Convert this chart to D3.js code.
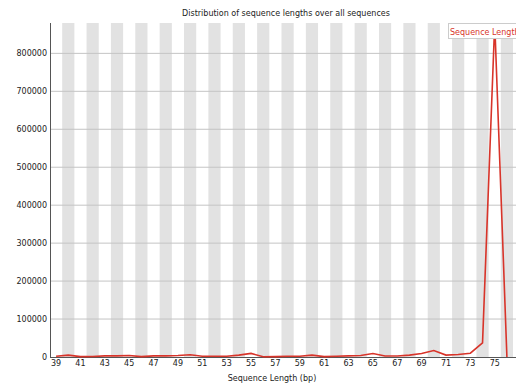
<!DOCTYPE html>
<html><head><meta charset="utf-8">
<script src="https://cdn.jsdelivr.net/npm/d3@7"></script>
<style>body{margin:0;background:#fff}svg{display:block;font-family:"DejaVu Sans",sans-serif}</style>
</head><body>
<svg id="c" width="516" height="387"></svg>
<script>
const lengths = [39,40,41,42,43,44,45,46,47,48,49,50,51,52,53,54,55,56,57,58,59,60,61,62,63,64,65,66,67,68,69,70,71,72,73,74,75,76];
const counts = [2000,5000,1000,1500,3000,3000,4000,1000,3000,3000,4000,6000,2000,2000,2000,5000,9500,500,1000,2000,2000,5000,1000,2000,3000,4000,9000,2500,2500,5000,9000,17000,5000,6500,10000,37500,880000,0];
const yTicks = [0,100000,200000,300000,400000,500000,600000,700000,800000];
const title = "Distribution of sequence lengths over all sequences";
const xTitle = "Sequence Length (bp)";
const seriesName = "Sequence Length";

(function(){
const svg = d3.select("#c");
const pl = 50, pr = 513, pt = 23, pb = 357;
const x = d3.scaleBand().domain(lengths).range([pl, pr]).padding(0);
const y = d3.scaleLinear().domain([0, d3.max(counts)]).range([pb, pt]);

svg.append("g").selectAll("rect").data(lengths.filter((d,i)=>i%2===1)).join("rect")
  .attr("x", d=>x(d)).attr("y", pt).attr("width", x.bandwidth()).attr("height", pb-pt)
  .attr("fill", "#e2e2e2");

svg.append("g").selectAll("line").data(yTicks.filter(d=>d>0)).join("line")
  .attr("x1", pl).attr("x2", 516).attr("y1", d=>y(d)).attr("y2", d=>y(d))
  .attr("stroke", "#c4c4c4").attr("stroke-width", 1);

svg.append("g").selectAll("text").data(yTicks).join("text")
  .attr("x", 47).attr("y", d=>y(d)+3).attr("text-anchor","end")
  .attr("font-size", 8).attr("fill","#222").text(d=>d);

svg.append("line").attr("x1", pl+0.5).attr("x2", pl+0.5).attr("y1", pt).attr("y2", pb)
  .attr("stroke","#555").attr("stroke-width",1);
svg.append("line").attr("x1", pl).attr("x2", 516).attr("y1", pb+0.5).attr("y2", pb+0.5)
  .attr("stroke","#555").attr("stroke-width",1);

svg.append("g").selectAll("text").data(lengths.filter((d,i)=>i%2===0)).join("text")
  .attr("x", d=>x(d)+x.bandwidth()/2).attr("y", 366).attr("text-anchor","middle")
  .attr("font-size", 8).attr("fill","#222").text(d=>d);

const line = d3.line().x((d,i)=>x(lengths[i])+x.bandwidth()/2).y(d=>y(d));
svg.append("path").datum(counts).attr("d", line).attr("fill","none")
  .attr("stroke","#d8342a").attr("stroke-width",1.6).attr("stroke-linejoin","miter");

svg.append("text").attr("x", 286).attr("y", 16).attr("text-anchor","middle")
  .attr("font-size", 8).attr("fill","#222").text(title);
svg.append("text").attr("x", 272).attr("y", 381).attr("text-anchor","middle")
  .attr("font-size", 8).attr("fill","#222").text(xTitle);

const lg = svg.append("g");
lg.append("rect").attr("x", 448.5).attr("y", 23.5).attr("width", 80).attr("height", 15)
  .attr("fill","#fff").attr("stroke","#ccc");
lg.append("text").attr("x", 450).attr("y", 35).attr("font-size", 8).attr("fill","#d8342a").text(seriesName);
})();
</script>
</body></html>
